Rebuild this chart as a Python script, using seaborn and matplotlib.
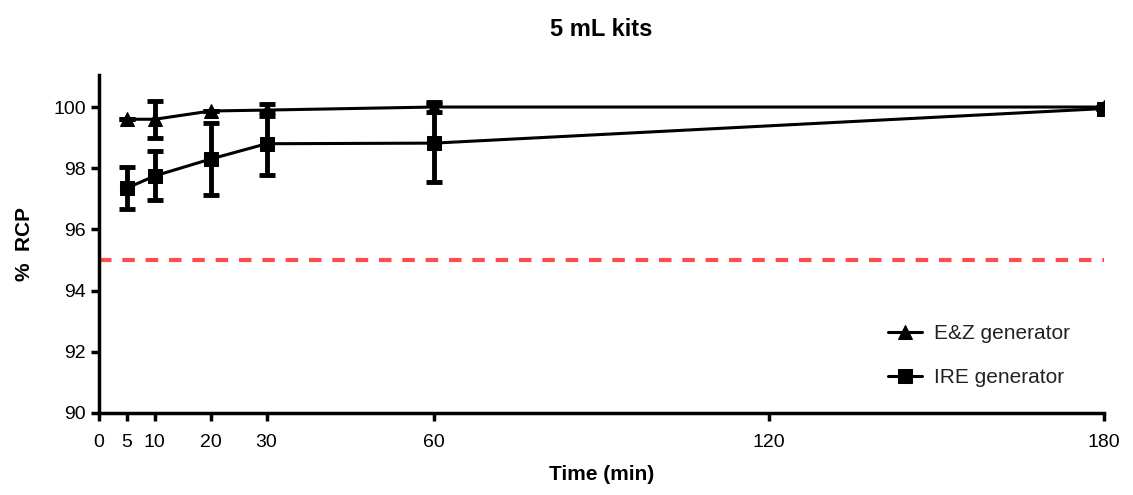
import numpy as np
import pandas as pd
import matplotlib
matplotlib.use("Agg")
import matplotlib.pyplot as plt
import seaborn as sns

sns.set_style("ticks")
plt.rcParams['font.family'] = ['Liberation Sans', 'DejaVu Sans']
plt.rcParams['text.color'] = 'black'
plt.rcParams['axes.labelcolor'] = 'black'

# data
time_min = [5, 10, 20, 30, 60, 180]
ez_mean = [99.6, 99.6, 99.87, 99.9, 100.0, 100.0]
ez_sd = [0.0, 0.6, 0.0, 0.2, 0.15, 0.0]
ire_mean = [97.35, 97.75, 98.3, 98.8, 98.82, 99.95]
ire_sd = [0.68, 0.8, 1.17, 1.03, 1.27, 0.0]
limit = 95
x_ticks = [0, 5, 10, 20, 30, 60, 120, 180]
y_ticks = [90, 92, 94, 96, 98, 100]

df = pd.DataFrame({
    'time': time_min * 2,
    'rcp': ez_mean + ire_mean,
    'sd': ez_sd + ire_sd,
    'series': ['E&Z generator'] * len(time_min) + ['IRE generator'] * len(time_min),
})

fig = plt.figure(figsize=(11.33, 4.95), dpi=100)
ax = fig.add_axes([0.0874, 0.1657, 0.887, 0.683])

ax.axhline(limit, color='#ff4d4d', lw=3, ls=(0, (3, 2.6)), zorder=1)

sns.lineplot(data=df, x='time', y='rcp', hue='series', style='series',
             markers={'E&Z generator': '^', 'IRE generator': 's'}, dashes=False,
             palette=['black', 'black'], lw=2.2, markersize=10,
             markeredgecolor='black', ax=ax, zorder=3)

for name, grp in df.groupby('series'):
    ax.errorbar(grp['time'], grp['rcp'], yerr=grp['sd'], fmt='none',
                ecolor='black', elinewidth=3.5, capsize=6, capthick=3.5, zorder=2)

ax.set_xlim(0, 180)
ax.set_ylim(90, 101.05)
ax.set_xticks(x_ticks)
ax.set_yticks(y_ticks)
ax.tick_params(axis='both', width=2.5, length=6, labelsize=14, direction='out',
               color='black', labelcolor='black')
ax.tick_params(axis='x', pad=9)
for s in ['left', 'bottom']:
    ax.spines[s].set_linewidth(2.5)
    ax.spines[s].set_color('black')
sns.despine(ax=ax)

ax.set_xlabel('Time (min)', fontsize=15, fontweight='bold', labelpad=10)
ax.set_ylabel('%  RCP', fontsize=15, fontweight='bold', labelpad=14)
ax.set_title('5 mL kits', fontsize=17, fontweight='bold', pad=28)

leg = ax.legend(title=None, frameon=False, fontsize=15, loc='lower right',
                bbox_to_anchor=(0.985, 0.02), labelspacing=1.2,
                handlelength=1.6, handletextpad=0.6)
for t in leg.get_texts():
    t.set_color('#222222')

fig.savefig('out.png', dpi=100)
